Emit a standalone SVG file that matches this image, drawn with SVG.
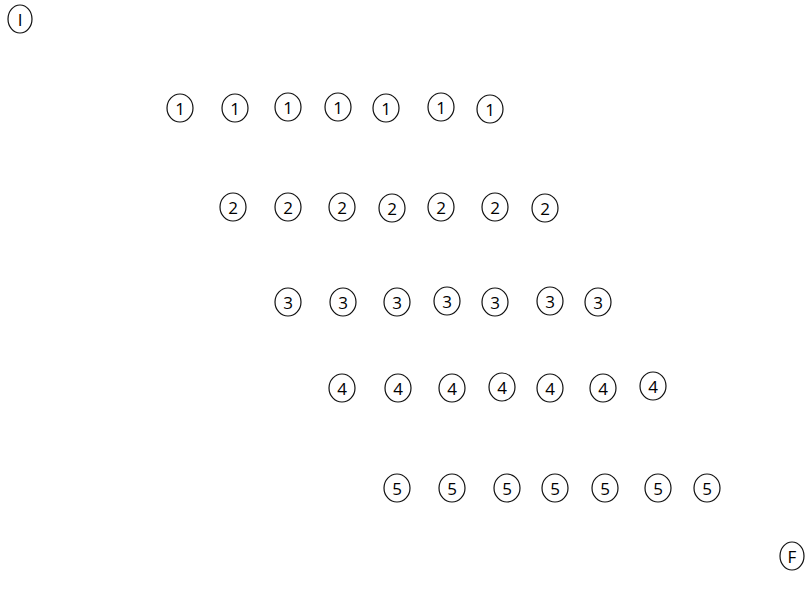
<svg xmlns="http://www.w3.org/2000/svg" width="806" height="609" viewBox="0 0 806 609">
<style>
ellipse{fill:#fff;stroke:#111;stroke-width:1.2}
text{font-family:"Open Sans","Liberation Sans",sans-serif;font-size:17px;fill:#000;text-anchor:middle;dominant-baseline:central}
</style>
<rect width="806" height="609" fill="#fff"/>
<g id="nI"><ellipse cx="20" cy="19" rx="12" ry="14"/><text x="20" y="19">I</text></g>
<g id="nF"><ellipse cx="792" cy="556" rx="12" ry="14"/><text x="792" y="556">F</text></g>
<g id="row1">
<g id="n1a"><ellipse cx="180" cy="108" rx="13" ry="14"/><text x="180" y="108">1</text></g>
<g id="n1b"><ellipse cx="235" cy="108" rx="13" ry="14"/><text x="235" y="108">1</text></g>
<g id="n1c"><ellipse cx="288" cy="107" rx="13" ry="14"/><text x="288" y="107">1</text></g>
<g id="n1d"><ellipse cx="338" cy="107" rx="13" ry="14"/><text x="338" y="107">1</text></g>
<g id="n1e"><ellipse cx="386" cy="108" rx="13" ry="14"/><text x="386" y="108">1</text></g>
<g id="n1f"><ellipse cx="441" cy="107" rx="13" ry="14"/><text x="441" y="107">1</text></g>
<g id="n1g"><ellipse cx="490" cy="109" rx="13" ry="14"/><text x="490" y="109">1</text></g>
</g>
<g id="row2">
<g id="n2a"><ellipse cx="233" cy="207" rx="13" ry="14"/><text x="233" y="207">2</text></g>
<g id="n2b"><ellipse cx="288" cy="207" rx="13" ry="14"/><text x="288" y="207">2</text></g>
<g id="n2c"><ellipse cx="342" cy="207" rx="13" ry="14"/><text x="342" y="207">2</text></g>
<g id="n2d"><ellipse cx="392" cy="208" rx="13" ry="14"/><text x="392" y="208">2</text></g>
<g id="n2e"><ellipse cx="441" cy="207" rx="13" ry="14"/><text x="441" y="207">2</text></g>
<g id="n2f"><ellipse cx="495" cy="207" rx="13" ry="14"/><text x="495" y="207">2</text></g>
<g id="n2g"><ellipse cx="545" cy="208" rx="13" ry="14"/><text x="545" y="208">2</text></g>
</g>
<g id="row3">
<g id="n3a"><ellipse cx="288" cy="302" rx="13" ry="14"/><text x="288" y="302">3</text></g>
<g id="n3b"><ellipse cx="343" cy="302" rx="13" ry="14"/><text x="343" y="302">3</text></g>
<g id="n3c"><ellipse cx="397" cy="302" rx="13" ry="14"/><text x="397" y="302">3</text></g>
<g id="n3d"><ellipse cx="447" cy="301" rx="13" ry="14"/><text x="447" y="301">3</text></g>
<g id="n3e"><ellipse cx="495" cy="302" rx="13" ry="14"/><text x="495" y="302">3</text></g>
<g id="n3f"><ellipse cx="550" cy="301" rx="13" ry="14"/><text x="550" y="301">3</text></g>
<g id="n3g"><ellipse cx="598" cy="302" rx="13" ry="14"/><text x="598" y="302">3</text></g>
</g>
<g id="row4">
<g id="n4a"><ellipse cx="342" cy="388" rx="13" ry="14"/><text x="342" y="388">4</text></g>
<g id="n4b"><ellipse cx="398" cy="388" rx="13" ry="14"/><text x="398" y="388">4</text></g>
<g id="n4c"><ellipse cx="452" cy="388" rx="13" ry="14"/><text x="452" y="388">4</text></g>
<g id="n4d"><ellipse cx="502" cy="387" rx="13" ry="14"/><text x="502" y="387">4</text></g>
<g id="n4e"><ellipse cx="550" cy="388" rx="13" ry="14"/><text x="550" y="388">4</text></g>
<g id="n4f"><ellipse cx="603" cy="388" rx="13" ry="14"/><text x="603" y="388">4</text></g>
<g id="n4g"><ellipse cx="653" cy="386" rx="13" ry="14"/><text x="653" y="386">4</text></g>
</g>
<g id="row5">
<g id="n5a"><ellipse cx="397" cy="488" rx="13" ry="14"/><text x="397" y="488">5</text></g>
<g id="n5b"><ellipse cx="452" cy="488" rx="13" ry="14"/><text x="452" y="488">5</text></g>
<g id="n5c"><ellipse cx="507" cy="488" rx="13" ry="14"/><text x="507" y="488">5</text></g>
<g id="n5d"><ellipse cx="555" cy="488" rx="13" ry="14"/><text x="555" y="488">5</text></g>
<g id="n5e"><ellipse cx="605" cy="488" rx="13" ry="14"/><text x="605" y="488">5</text></g>
<g id="n5f"><ellipse cx="658" cy="488" rx="13" ry="14"/><text x="658" y="488">5</text></g>
<g id="n5g"><ellipse cx="707" cy="488" rx="13" ry="14"/><text x="707" y="488">5</text></g>
</g>
<g id="connectors"/>
</svg>
